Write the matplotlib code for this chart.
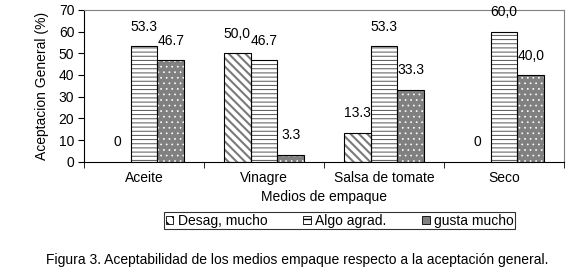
import numpy as np
import matplotlib
matplotlib.use("Agg")
import matplotlib.pyplot as plt
from matplotlib.patches import Patch

plt.rcParams['font.family'] = ['Liberation Sans', 'DejaVu Sans']

# data
categories = ["Aceite", "Vinagre", "Salsa de tomate", "Seco"]
series_names = ["Desag, mucho", "Algo agrad.", "gusta mucho"]
desag = [0, 50.0, 13.3, 0]
algo = [53.3, 46.7, 53.3, 60.0]
gusta = [46.7, 3.3, 33.3, 40.0]
desag_labels = ["0", "50,0", "13.3", "0"]
algo_labels = ["53.3", "46.7", "53.3", "60,0"]
gusta_labels = ["46.7", "3.3", "33.3", "40,0"]

fs = 10
fig = plt.figure(figsize=(5.78, 2.76), dpi=100)
ax = fig.add_axes([0.1453, 0.414, 0.8305, 0.55])

x = np.arange(len(categories))
w = 0.222
styles = [
    dict(face="white", hatch="\\\\\\\\", hcolor="#7a7a7a", hlw=1.5),
    dict(face="white", hatch="----", hcolor="#555555", hlw=0.7),
    dict(face="#808080", hatch="...", hcolor="white", hlw=0.5),
]
all_vals = [desag, algo, gusta]
all_labels = [desag_labels, algo_labels, gusta_labels]

for i, (vals, labs, st) in enumerate(zip(all_vals, all_labels, styles)):
    pos = x + (i - 1) * w
    ax.bar(pos, vals, w, color=st["face"], edgecolor="none", zorder=2)
    with plt.rc_context({"hatch.linewidth": st["hlw"]}):
        ax.bar(pos, vals, w, color="none", edgecolor=st["hcolor"], hatch=st["hatch"],
               linewidth=0, zorder=3)
    heights = np.array(vals)
    ax.bar(pos, vals, w, color="none",
           edgecolor=np.where(heights > 0, "black", "none").tolist(),
           linewidth=0.8, zorder=4)
    for p, v, t in zip(pos, vals, labs):
        ax.annotate(t, (p, v), xytext=(0, 14), textcoords="offset points",
                    ha="center", va="center", fontsize=fs)

ax.set_xlim(-0.5, len(categories) - 0.5)
ax.set_ylim(0, 70)
ax.set_yticks(range(0, 71, 10))
ax.set_xticks(x)
ax.set_xticklabels(categories, fontsize=fs)
ax.set_xticks(np.arange(-0.5, len(categories), 1), minor=True)
ax.tick_params(axis="x", which="major", length=0, pad=7)
ax.tick_params(axis="x", which="minor", length=4, direction="out")
ax.tick_params(axis="y", labelsize=fs, length=4, direction="out", pad=3)

for s in ["top", "right"]:
    ax.spines[s].set_color("#808080")
    ax.spines[s].set_linewidth(0.8)
for s in ["left", "bottom"]:
    ax.spines[s].set_linewidth(0.8)

ax.set_ylabel("Aceptacion General (%)", fontsize=fs, labelpad=7)
ax.set_xlabel("Medios de empaque", fontsize=fs, labelpad=3)

handles = [Patch(facecolor="white", edgecolor="black", hatch="\\\\\\", linewidth=0.6),
           Patch(facecolor="white", edgecolor="black", hatch="---", linewidth=0.6),
           Patch(facecolor="#808080", edgecolor="black", linewidth=0.6)]
leg = fig.legend(handles, series_names, loc="center", bbox_to_anchor=(0.588, 0.2),
                 ncol=3, fontsize=fs, frameon=True, fancybox=False,
                 handlelength=0.55, handleheight=0.55, handletextpad=0.3,
                 columnspacing=2.6, borderpad=0.1, borderaxespad=0)
leg.get_frame().set_edgecolor("black")
leg.get_frame().set_linewidth(0.8)

fig.text(0.515, 0.057, "Figura 3. Aceptabilidad de los medios empaque respecto a la aceptación general.",
         ha="center", va="center", fontsize=fs)

fig.savefig("out.png", dpi=100)
